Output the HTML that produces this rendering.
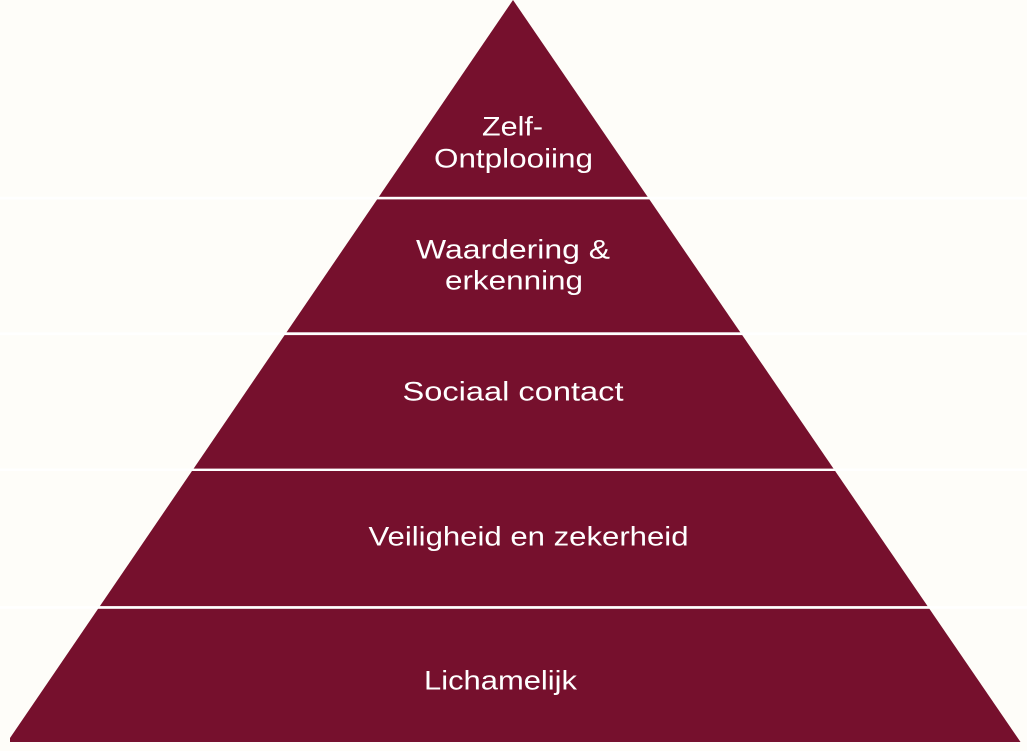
<!DOCTYPE html>
<html>
<head>
<meta charset="utf-8">
<style>
  html, body { margin: 0; padding: 0; background: #fefdf9; }
  body { width: 1027px; height: 751px; overflow: hidden; }
  svg { display: block; }
  text { font-family: "Liberation Sans", "DejaVu Sans", sans-serif; font-size: 27px; fill: #ffffff; }
</style>
</head>
<body>
<svg width="1027" height="751" viewBox="0 0 1027 751" xmlns="http://www.w3.org/2000/svg">
  <rect x="0" y="0" width="1027" height="751" fill="#fefdf9"/>
  <polygon points="513,0 1020.5,742 10,742 10,738" fill="#76102d"/>
  <rect x="0" y="196.8" width="1027" height="2.6" fill="#ffffff"/>
  <rect x="0" y="332.3" width="1027" height="2.8" fill="#ffffff"/>
  <rect x="0" y="468.6" width="1027" height="2.4" fill="#ffffff"/>
  <rect x="0" y="606.1" width="1027" height="2.7" fill="#ffffff"/>

  <text x="482" y="135.7" textLength="61" lengthAdjust="spacingAndGlyphs">Zelf-</text>
  <text x="434" y="167.5" textLength="159" lengthAdjust="spacingAndGlyphs">Ontplooiing</text>

  <text x="416" y="258.3" textLength="194" lengthAdjust="spacingAndGlyphs">Waardering &amp;</text>
  <text x="445" y="289.5" textLength="138" lengthAdjust="spacingAndGlyphs">erkenning</text>

  <text x="402.5" y="400.7" textLength="221" lengthAdjust="spacingAndGlyphs">Sociaal contact</text>

  <text x="368.5" y="545.7" textLength="320" lengthAdjust="spacingAndGlyphs">Veiligheid en zekerheid</text>

  <text x="424" y="689.3" textLength="153" lengthAdjust="spacingAndGlyphs">Lichamelijk</text>
</svg>
</body>
</html>
